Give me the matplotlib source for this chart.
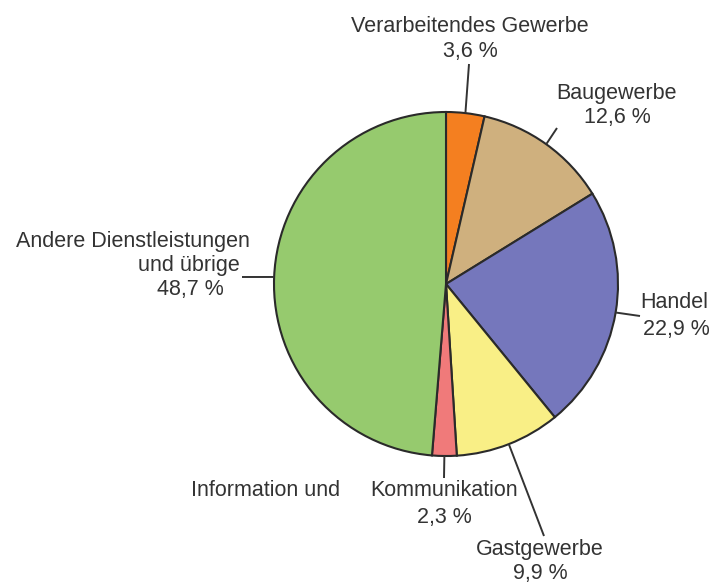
import numpy as np
import matplotlib.pyplot as plt

# Anteile der Branchen (Prozent), im Uhrzeigersinn ab 12 Uhr
sectors = ['Verarbeitendes Gewerbe', 'Baugewerbe', 'Handel', 'Gastgewerbe',
           'Information und Kommunikation', 'Andere Dienstleistungen und übrige']
shares = [3.6, 12.6, 22.9, 9.9, 2.3, 48.7]
colors = ['#F47F20', '#CFB07E', '#7577BC', '#F9EF86', '#F07A7A', '#96CA6E']

plt.rcParams['font.family'] = ['Liberation Sans', 'DejaVu Sans']

W, H = 714, 585
fig = plt.figure(figsize=(W / 100, H / 100), dpi=100)
ax = fig.add_axes([0, 0, 1, 1])

def Y(y):
    # pixel row (from top) -> data y
    return H - y

cx, cy, r = 446, Y(284), 172
wedges, _ = ax.pie(shares, colors=colors, startangle=90, counterclock=False,
                   center=(cx, cy), radius=r, frame=True,
                   wedgeprops=dict(edgecolor='#2a2a2a', linewidth=1.5))
ax.set_xlim(0, W)
ax.set_ylim(0, H)
ax.set_aspect('equal')
ax.axis('off')

txt = dict(fontsize=15.5, color='#333333', va='center')
lc = '#333333'

# Leader line ends (layout only); starts computed from wedge angles
ends = [(469, 64), (557, 128), (640, 316), (544, 536), (444, 478), (242, 277)]
cum = np.cumsum([0] + shares)
for i, (ex, ey) in enumerate(ends):
    mid = 90 - (cum[i] + shares[i] / 2) * 3.6
    a = np.deg2rad(mid)
    sx, sy = cx + r * np.cos(a), cy + r * np.sin(a)
    ax.plot([sx, ex], [sy, Y(ey)], color=lc, lw=1.4, solid_capstyle='butt')

def pct(v):
    return f'{v:.1f}'.replace('.', ',') + ' %'

ax.text(470, Y(27), 'Verarbeitendes Gewerbe', ha='center', **txt)
ax.text(470, Y(51), pct(shares[0]), ha='center', **txt)
ax.text(617, Y(93), 'Baugewerbe', ha='center', **txt)
ax.text(617, Y(117), pct(shares[1]), ha='center', **txt)
ax.text(640, Y(303), 'Handel', ha='left', **txt)
ax.text(676, Y(329), pct(shares[2]), ha='center', **txt)
ax.text(540, Y(550), 'Gastgewerbe', ha='center', **txt)
ax.text(540, Y(574), pct(shares[3]), ha='center', **txt)
ax.text(340, Y(491), 'Information und', ha='right', **txt)
ax.text(444, Y(491), 'Kommunikation', ha='center', **txt)
ax.text(444, Y(518), pct(shares[4]), ha='center', **txt)
ax.text(250, Y(241), 'Andere Dienstleistungen', ha='right', **txt)
ax.text(240, Y(265), 'und übrige', ha='right', **txt)
ax.text(190, Y(290), pct(shares[5]), ha='center', **txt)

fig.savefig('out.png', dpi=100, facecolor='white')
